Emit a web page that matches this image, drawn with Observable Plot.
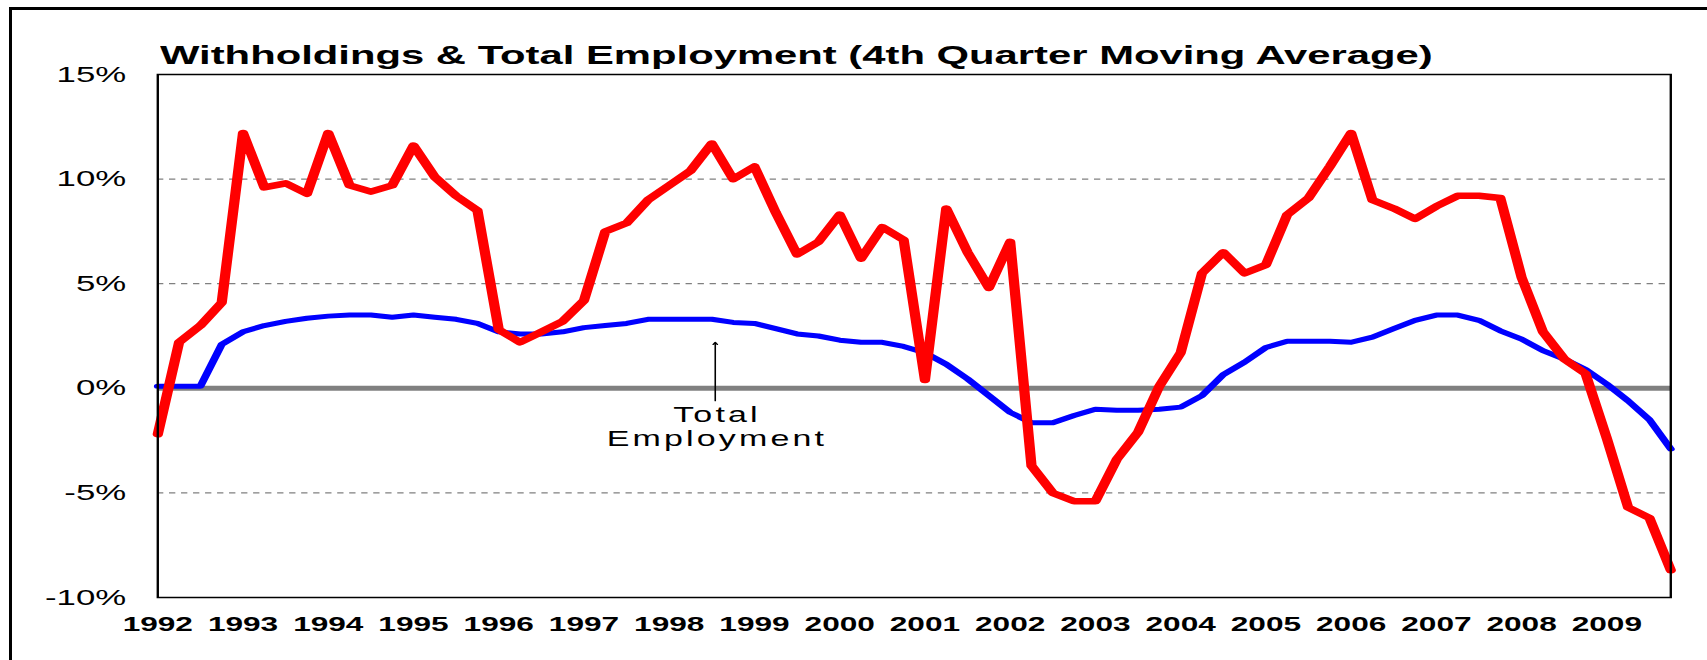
<!DOCTYPE html>
<html>
<head>
<meta charset="utf-8">
<script src="https://cdn.jsdelivr.net/npm/d3@7"></script>
<script src="https://cdn.jsdelivr.net/npm/@observablehq/plot@0.6"></script>
<style>
  html, body { margin: 0; padding: 0; background: #fff; width: 1707px; height: 660px; overflow: hidden; }
  #border { position: absolute; left: 9px; top: 7px; width: 1760px; height: 720px; border: 3px solid #000; box-sizing: border-box; }
  #title { position: absolute; left: 160px; top: 43px; font-family: "Liberation Sans", Arial, sans-serif; font-weight: bold; font-size: 25.8px; line-height: 1; white-space: nowrap; transform: scaleX(1.62); transform-origin: 0 0; color: #000; }
  #chart { position: absolute; left: 0; top: 60px; }
</style>
</head>
<body>
<div id="border"></div>
<div id="title">Withholdings &amp; Total Employment (4th Quarter Moving Average)</div>
<div id="chart"></div>
<script>
// ---- data (quarterly, 1992 Q1 .. 2009 Q4) ----
const startYear = 1992;
const yearTicks = [1992, 1993, 1994, 1995, 1996, 1997, 1998, 1999, 2000, 2001, 2002, 2003, 2004, 2005, 2006, 2007, 2008, 2009];
const yTicks = [-10, -5, 0, 5, 10, 15];
const gridLevels = [-5, 5, 10];

const withholdings = [
  -2.2, 2.2, 3.0, 4.1, 12.2, 9.6, 9.8, 9.3,
  12.2, 9.7, 9.4, 9.7, 11.6, 10.1, 9.2, 8.5,
  2.8, 2.2, 2.7, 3.2, 4.2, 7.5, 7.9, 9.0,
  9.7, 10.4, 11.7, 10.0, 10.6, 8.4, 6.4, 7.0,
  8.3, 6.2, 7.7, 7.1, 0.4, 8.6, 6.5, 4.8,
  7.0, -3.7, -5.0, -5.4, -5.4, -3.4, -2.1, 0.1,
  1.7, 5.5, 6.5, 5.5, 5.9, 8.3, 9.1, 10.6,
  12.2, 9.0, 8.6, 8.1, 8.7, 9.2, 9.2, 9.1,
  5.3, 2.7, 1.4, 0.7, -2.4, -5.7, -6.2, -8.7
];

const totalEmployment = [
  0.1, 0.1, 0.1, 2.1, 2.7, 3.0, 3.2, 3.35,
  3.45, 3.5, 3.5, 3.4, 3.5, 3.4, 3.3, 3.1,
  2.7, 2.6, 2.6, 2.7, 2.9, 3.0, 3.1, 3.3,
  3.3, 3.3, 3.3, 3.15, 3.1, 2.85, 2.6, 2.5,
  2.3, 2.2, 2.2, 2.0, 1.7, 1.15, 0.45, -0.35,
  -1.15, -1.65, -1.65, -1.3, -1.0, -1.05, -1.05, -1.0,
  -0.9, -0.35, 0.65, 1.25, 1.95, 2.25, 2.25, 2.25,
  2.2, 2.45, 2.85, 3.25, 3.5, 3.5, 3.25, 2.75,
  2.35, 1.8, 1.4, 0.9, 0.2, -0.6, -1.5, -2.9
];

const annotationArrow = [{x: 1998.54, from: -0.6, to: 2.2}];
const annotationLabel = [{x: 1998.56, y: -0.75, text: "Total\nEmployment"}];

// ---- build ----
const quarterX = withholdings.map((_, i) => startYear + i / 4);
const redData = withholdings.map((v, i) => ({x: quarterX[i], y: v}));
const blueData = totalEmployment.map((v, i) => ({x: quarterX[i], y: v}));

const S = 1.5806;        // horizontal stretch of the original picture
const W = 1707, H = 600;
const W0 = W / S;

const chart = Plot.plot({
  width: W0,
  height: H,
  marginLeft: 157 / S,
  marginRight: 37 / S,
  marginTop: 14,
  marginBottom: 63,
  style: {fontFamily: "'Liberation Sans', Arial, sans-serif", background: "transparent", overflow: "visible", color: "#000"},
  x: {domain: [startYear, 2009.75]},
  y: {domain: [-10, 15]},
  marks: [
    Plot.ruleY(gridLevels, {stroke: "#808080", strokeWidth: 1.3, strokeDasharray: "4,3.6"}),
    Plot.ruleY([0], {stroke: "#808080", strokeWidth: 5}),
    Plot.lineY(blueData, {x: "x", y: "y", stroke: "#0000FF", strokeWidth: 5, strokeLinejoin: "round"}),
    Plot.lineY(redData, {x: "x", y: "y", stroke: "#FF0000", strokeWidth: 6.5, strokeLinejoin: "round"}),
    Plot.frame({stroke: "#000", strokeWidth: 1.5}),
    Plot.arrow(annotationArrow, {x1: "x", x2: "x", y1: "from", y2: "to", stroke: "#000", strokeWidth: 1, headLength: 4}),
    Plot.text(annotationLabel, {x: "x", y: "y", text: "text", lineAnchor: "top", lineHeight: 1.15, fontSize: 21.5, fill: "#000"}),
    Plot.axisX(yearTicks, {tickSize: 0, tickPadding: 19, tickFormat: d => String(d), fontSize: 20, fontWeight: "bold", label: null}),
    Plot.axisY(yTicks, {tickSize: 0, tickPadding: 20, tickFormat: d => d + "%", fontSize: 22, label: null})
  ]
});

chart.setAttribute("width", W);
chart.setAttribute("height", H);
chart.setAttribute("viewBox", `0 0 ${W0} ${H}`);
chart.setAttribute("preserveAspectRatio", "none");
chart.style.width = W + "px";
chart.style.height = H + "px";
chart.style.maxWidth = "none";
for (const t of chart.querySelectorAll("text")) {
  if (t.textContent.includes("Employment")) {
    t.style.letterSpacing = "2px";
  }
}

document.getElementById("chart").appendChild(chart);
</script>
</body>
</html>
